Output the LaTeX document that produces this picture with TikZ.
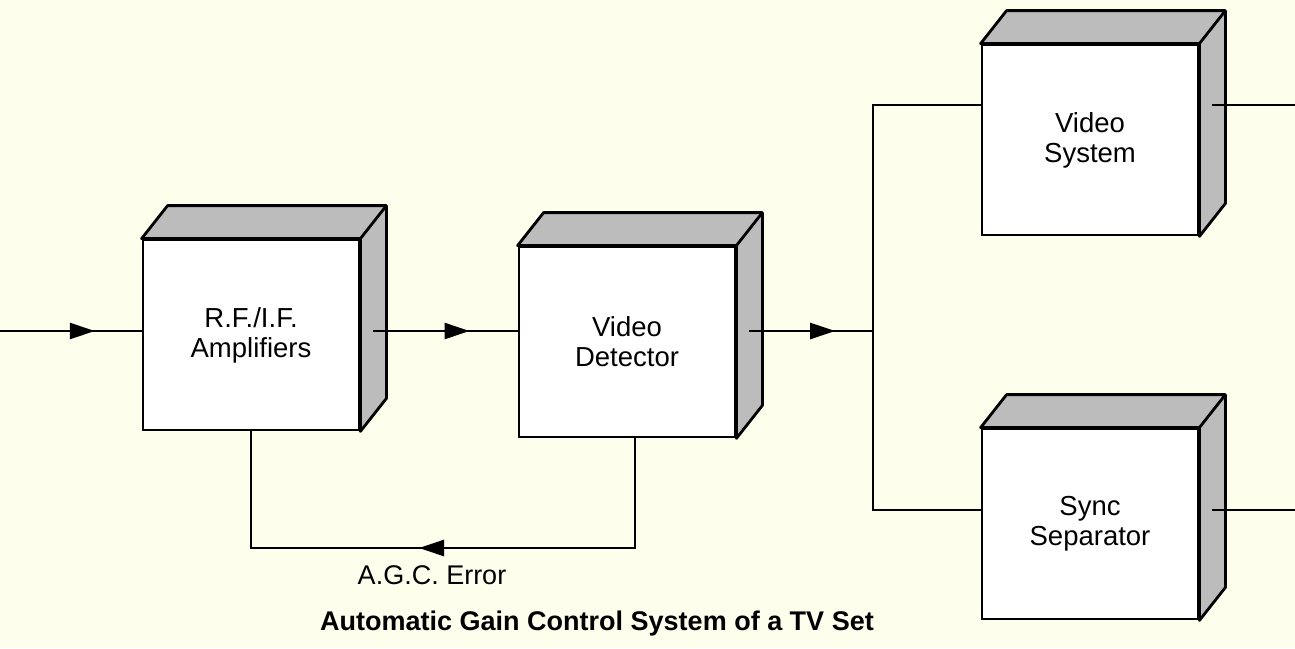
\documentclass[tikz,border=0pt]{standalone}
\usepackage{fontspec}
\setmainfont{Liberation Sans}
\usepackage{xcolor}
\usepackage{tikz}
\usetikzlibrary{positioning, arrows.meta, calc, decorations.markings}
\definecolor{paper}{HTML}{FDFEEC}
\definecolor{facegray}{HTML}{BCBCBC}

\begin{document}
\begin{tikzpicture}[x=1pt, y=-1pt,
    block/.style={draw, line width=2.8pt, fill=white, minimum width=216pt,
                  minimum height=190pt, align=center,
                  font=\fontsize{27.5}{30}\selectfont},
    wire/.style={line width=2.5pt},
    midarrow/.style={wire, postaction={decorate}, decoration={markings,
      mark=at position 0.5 with {\arrow[xshift=24pt]{Triangle[length=25pt, width=16pt]}}}}]

  \fill[paper] (0,0) rectangle (1295,648);
  \useasboundingbox (0,0) rectangle (1295,648);

  \node[block] (amp) at (251,335) {R.F./I.F.\\Amplifiers};
  \node[block] (det) at (627,342) {Video\\Detector};
  \node[block] (vsys) at (1090,140) {Video\\System};
  \node[block] (sync) at (1090,524) {Sync\\Separator};

  % top and side faces of the boxes
  \foreach \b in {amp, det, vsys, sync} {
    \filldraw[fill=facegray, line width=2.8pt, line join=round]
      (\b.north west) -- ++(26,-33) -- ($(\b.north east)+(26,-33)$)
      -- ($(\b.south east)+(26,-33)$) -- (\b.south east)
      -- (\b.north east) -- cycle;
    \draw[line width=2.8pt] (\b.north east) -- ++(26,-33);
  }

  \coordinate (in) at (0,331);
  \coordinate (split) at (873,331);
  \coordinate (vtap) at (873,105);
  \coordinate (stap) at (873,510);
  \coordinate (vend) at (1295,105);
  \coordinate (send) at (1295,510);
  \coordinate (agc) at (0,548);

  \draw[midarrow] (in) -- (amp.west |- in);
  \draw[midarrow] ($(amp.east |- in)+(13,0)$) -- (det.west |- in);
  \draw[midarrow] ($(det.east |- in)+(13,0)$) -- (split);
  \draw[wire] (vsys.west |- vtap) -- (vtap) -- (stap) -- (sync.west |- stap);
  \draw[wire] ($(vsys.east |- vtap)+(13,0)$) -- (vend);
  \draw[wire] ($(sync.east |- stap)+(13,0)$) -- (send);

  % a.g.c. feedback
  \draw[wire] ($(det.south)+(8,0)$) |- (agc -| amp.south) -- (amp.south);
  \draw[midarrow] ($(det.south |- agc)+(8,0)$) -- (amp.south |- agc);

  \node[font=\fontsize{27}{30}\selectfont] (agclabel) at (432,575) {A.G.C. Error};
  \node[font=\bfseries\fontsize{27}{30}\selectfont] (title) at (597,624)
    {Automatic Gain Control System of a TV Set};
\end{tikzpicture}
\end{document}
